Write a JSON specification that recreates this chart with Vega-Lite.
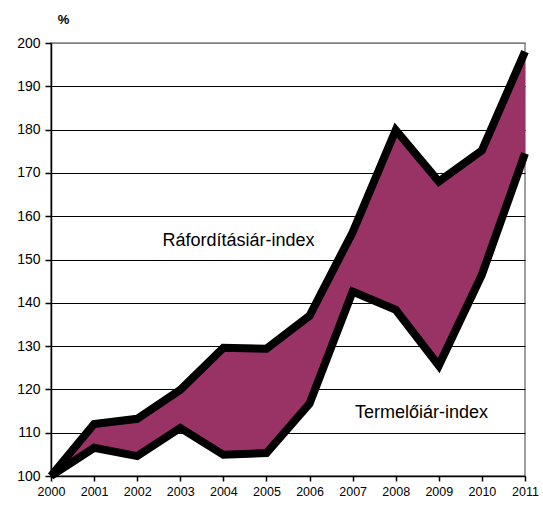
{
  "$schema": "https://vega.github.io/schema/vega-lite/v6.json",
  "width": 474,
  "height": 433,
  "autosize": {"type": "none"},
  "padding": {"left": 51, "top": 43, "right": 18, "bottom": 31},
  "background": "white",
  "config": {
    "font": "Liberation Sans",
    "view": {"stroke": "#808080", "strokeWidth": 1.5},
    "axis": {"labelFont": "Liberation Sans", "labelFontSize": 13, "labelColor": "black", "domainColor": "black", "tickColor": "black", "domainWidth": 1.5, "tickWidth": 1.5, "labelOverlap": false}
  },
  "datasets": {
    "idx": [
      {"year": 2000, "raf": 100, "term": 100},
      {"year": 2001, "raf": 112, "term": 106.5},
      {"year": 2002, "raf": 113.2, "term": 104.6},
      {"year": 2003, "raf": 119.9, "term": 111.1},
      {"year": 2004, "raf": 129.6, "term": 104.9},
      {"year": 2005, "raf": 129.4, "term": 105.3},
      {"year": 2006, "raf": 137, "term": 116.7},
      {"year": 2007, "raf": 156.3, "term": 142.6},
      {"year": 2008, "raf": 179.9, "term": 138.4},
      {"year": 2009, "raf": 168, "term": 125.5},
      {"year": 2010, "raf": 175.2, "term": 146.5},
      {"year": 2011, "raf": 198, "term": 174.5}
    ],
    "labels": [
      {"year": 2004.35, "v": 154.3, "t": "Ráfordításiár-index"},
      {"year": 2008.6, "v": 114.5, "t": "Termelőiár-index"}
    ]
  },
  "layer": [
    {
      "data": {"name": "idx"},
      "mark": {"type": "area", "color": "#993366"},
      "encoding": {
        "x": {"field": "year", "type": "quantitative", "scale": {"domain": [2000, 2011], "nice": false, "zero": false},
          "axis": {"title": null, "values": [2000,2001,2002,2003,2004,2005,2006,2007,2008,2009,2010,2011], "format": "d", "grid": false, "tickSize": 5, "labelPadding": 4, "labelFlush": false, "labelFontSize": 12.5}},
        "y": {"field": "raf", "type": "quantitative", "scale": {"domain": [100, 200], "nice": false, "zero": false},
          "axis": {"title": "%", "titleAngle": 0, "titleX": 12, "titleY": -17, "titleFontSize": 13, "titleFontWeight": "bold", "titleColor": "black", "titleFont": "Liberation Sans", "values": [100,110,120,130,140,150,160,170,180,190,200], "tickSize": 6, "labelPadding": 5, "labelFontSize": 14,
            "grid": true, "gridColor": {"condition": {"test": "datum.value == 200", "value": "#808080"}, "value": "black"}, "gridWidth": 1.2}},
        "y2": {"field": "term"}
      }
    },
    {
      "data": {"name": "idx"},
      "mark": {"type": "line", "color": "black", "strokeWidth": 8, "strokeJoin": "miter", "strokeCap": "butt"},
      "encoding": {
        "x": {"field": "year", "type": "quantitative"},
        "y": {"field": "raf", "type": "quantitative"}
      }
    },
    {
      "data": {"name": "idx"},
      "mark": {"type": "line", "color": "black", "strokeWidth": 8, "strokeJoin": "miter", "strokeCap": "butt"},
      "encoding": {
        "x": {"field": "year", "type": "quantitative"},
        "y": {"field": "term", "type": "quantitative"}
      }
    },
    {
      "data": {"name": "labels"},
      "mark": {"type": "text", "fontSize": 18, "font": "Liberation Sans", "color": "black", "align": "center", "baseline": "middle"},
      "encoding": {
        "x": {"field": "year", "type": "quantitative"},
        "y": {"field": "v", "type": "quantitative"},
        "text": {"field": "t"}
      }
    }
  ]
}
